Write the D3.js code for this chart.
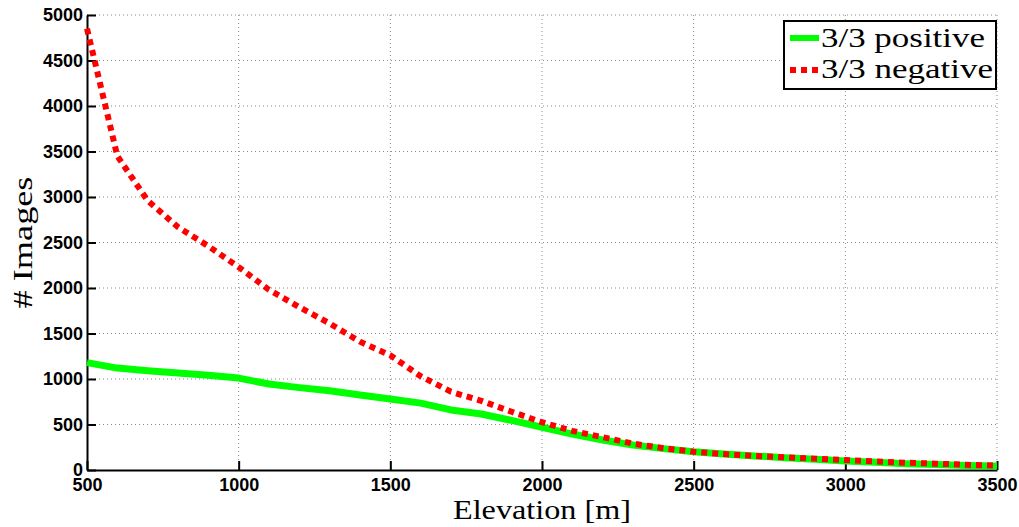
<!DOCTYPE html>
<html>
<head>
<meta charset="utf-8">
<script src="https://cdn.jsdelivr.net/npm/d3@7"></script>
<style>
  html, body { margin: 0; padding: 0; background: #fff; }
  svg { display: block; }
</style>
</head>
<body>
<svg id="chart" width="1019" height="527"></svg>
<script>
// ---- data ----
const elevation = [500, 600, 700, 800, 900, 1000, 1100, 1200, 1300, 1400, 1500,
  1600, 1700, 1800, 1900, 2000, 2100, 2200, 2300, 2400, 2500,
  2600, 2700, 2800, 2900, 3000, 3100, 3200, 3300, 3400, 3500];
const positive = [1180, 1120, 1090, 1065, 1040, 1010, 945, 905, 870, 825, 780,
  735, 660, 615, 545, 470, 395, 330, 275, 235, 200,
  175, 155, 135, 118, 100, 85, 70, 60, 50, 45];
const negative = [4850, 3450, 2960, 2670, 2460, 2230, 1980, 1790, 1610, 1410, 1260,
  1030, 860, 760, 640, 525, 430, 360, 290, 240, 200,
  175, 155, 140, 125, 110, 95, 80, 70, 57, 48];
const xTicks = [500, 1000, 1500, 2000, 2500, 3000, 3500];
const yTicks = [0, 500, 1000, 1500, 2000, 2500, 3000, 3500, 4000, 4500, 5000];
const seriesNames = ["3/3 positive", "3/3 negative"];
const xLabel = "Elevation [m]";
const yLabel = "# Images";

// ---- layout ----
const svg = d3.select("#chart");
const L = 87, R = 997, T = 15, B = 470;
const x = d3.scaleLinear().domain([500, 3500]).range([L, R]);
const y = d3.scaleLinear().domain([0, 5000]).range([B, T]);

const tickFont = "'Liberation Sans', Arial, Helvetica, sans-serif";
const serif = "'Liberation Serif', 'Times New Roman', serif";

// grid
const grid = svg.append("g");
grid.selectAll("line.gx").data(xTicks.filter(d => d !== 500)).enter().append("line")
  .attr("x1", d => x(d)).attr("x2", d => x(d)).attr("y1", T).attr("y2", B)
  .attr("stroke", "#8a8a8a").attr("stroke-width", 1).attr("stroke-dasharray", "1,3");
grid.selectAll("line.gy").data(yTicks.filter(d => d !== 0)).enter().append("line")
  .attr("x1", L).attr("x2", R).attr("y1", d => y(d)).attr("y2", d => y(d))
  .attr("stroke", "#8a8a8a").attr("stroke-width", 1).attr("stroke-dasharray", "1,3");

// axes (MATLAB style inward ticks)
const fmt = d3.format("d");
const xAxis = d3.axisBottom(x).tickValues(xTicks).tickFormat(fmt).tickSizeInner(-9).tickSizeOuter(0).tickPadding(8);
const yAxis = d3.axisLeft(y).tickValues(yTicks).tickFormat(fmt).tickSizeInner(-9).tickSizeOuter(0).tickPadding(4);

const gx = svg.append("g").attr("transform", `translate(0,${B})`).call(xAxis);
const gy = svg.append("g").attr("transform", `translate(${L},0)`).call(yAxis);
[gx, gy].forEach(g => {
  g.attr("font-family", null).attr("font-size", null);
  g.select(".domain").attr("stroke", "#000").attr("stroke-width", 2);
  g.selectAll(".tick line").attr("stroke", "#000").attr("stroke-width", 2);
  g.selectAll(".tick text").attr("fill", "#000")
    .style("font-family", tickFont).style("font-weight", "bold").style("font-size", "18px");
});

// lines
const line = d3.line().x((d, i) => x(elevation[i])).y(d => y(d));
svg.append("path").datum(positive).attr("d", line)
  .attr("fill", "none").attr("stroke", "#00ff00").attr("stroke-width", 7)
  .attr("stroke-linejoin", "round");
svg.append("path").datum(negative).attr("d", line)
  .attr("fill", "none").attr("stroke", "#ff0000").attr("stroke-width", 6)
  .attr("stroke-dasharray", "6,5").attr("stroke-linecap", "butt");

// axis labels
svg.append("text").attr("x", (L + R) / 2).attr("y", 519)
  .attr("text-anchor", "middle").style("font-family", serif).style("font-size", "28px")
  .attr("textLength", 178).attr("lengthAdjust", "spacingAndGlyphs")
  .text(xLabel);
svg.append("text").attr("transform", `translate(32,${(T + B) / 2}) rotate(-90)`)
  .attr("text-anchor", "middle").style("font-family", serif).style("font-size", "28px")
  .attr("textLength", 132).attr("lengthAdjust", "spacingAndGlyphs")
  .text(yLabel);

// legend
const lg = svg.append("g");
lg.append("rect").attr("x", 784).attr("y", 21).attr("width", 212).attr("height", 68)
  .attr("fill", "#fff").attr("stroke", "#000").attr("stroke-width", 2);
lg.append("line").attr("x1", 790).attr("x2", 819).attr("y1", 38).attr("y2", 38)
  .attr("stroke", "#00ff00").attr("stroke-width", 6);
lg.append("line").attr("x1", 790).attr("x2", 819).attr("y1", 70).attr("y2", 70)
  .attr("stroke", "#ff0000").attr("stroke-width", 6).attr("stroke-dasharray", "6,5");
lg.append("text").attr("x", 821).attr("y", 47).style("font-family", serif).style("font-size", "27px")
  .attr("textLength", 164).attr("lengthAdjust", "spacingAndGlyphs").text(seriesNames[0]);
lg.append("text").attr("x", 821).attr("y", 78).style("font-family", serif).style("font-size", "27px")
  .attr("textLength", 172).attr("lengthAdjust", "spacingAndGlyphs").text(seriesNames[1]);
</script>
</body>
</html>
